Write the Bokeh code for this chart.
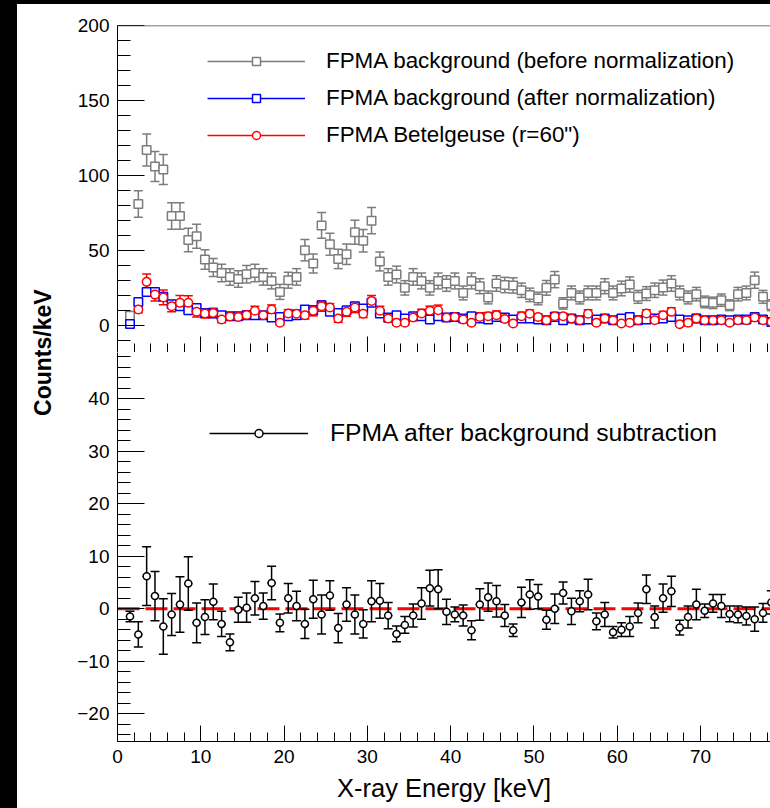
import math
from bokeh.plotting import figure
from bokeh.models import (ColumnDataSource, Range1d, FixedTicker, Whisker, TeeHead, Span,
                          Legend, LegendItem, Label, Div, CustomLabelingPolicy)
from bokeh.layouts import column, row
from bokeh.embed import file_html
from bokeh.resources import INLINE

FONT = "Liberation Sans"
GRAY = "#7c7c7c"
NAN = float("nan")

energy = [1.5, 2.5, 3.5, 4.5, 5.5, 6.5, 7.5, 8.5, 9.5, 10.5, 11.5, 12.5, 13.5, 14.5, 15.5, 16.5,
          17.5, 18.5, 19.5, 20.5, 21.5, 22.5, 23.5, 24.5, 25.5, 26.5, 27.5, 28.5, 29.5, 30.5, 31.5,
          32.5, 33.5, 34.5, 35.5, 36.5, 37.5, 38.5, 39.5, 40.5, 41.5, 42.5, 43.5, 44.5, 45.5, 46.5,
          47.5, 48.5, 49.5, 50.5, 51.5, 52.5, 53.5, 54.5, 55.5, 56.5, 57.5, 58.5, 59.5, 60.5, 61.5,
          62.5, 63.5, 64.5, 65.5, 66.5, 67.5, 68.5, 69.5, 70.5, 71.5, 72.5, 73.5, 74.5, 75.5, 76.5,
          77.5, 78.5]

bg_before = [6.5, 81, 117, 106, 104, 73, 73, 57, 59.5, 44, 38.7, 35, 32.4, 31, 34.2, 35,
             32.4, 29.7, 22.4, 30.2, 32.4, 50.2, 41.3, 66.7, 54.2, 44.4, 47.5, 62.2, 56.5, 69.9, 42.7,
             32.4, 34, 25.1, 32.4, 29.7, 25.1, 29.7, 28, 29.7, 21.7, 29.7, 26.2, 18.7, 28, 27,
             26.7, 23.5, 20.4, 18, 25.1, 30.6, 14.7, 21.7, 18.7, 21.7, 21.7, 26.2, 21.7, 24.7, 27.3,
             19.1, 21.3, 23.5, 25.3, 28, 21.7, 18.7, 20.9, 15.7, 15.1, 16.9, 13.5, 20.9, 21.7, 30.2,
             19.1, 13.5]
bg_before_err = [2.5, 8.9, 10.7, 10, 10, 8.9, 8.9, 7.8, 8, 6.5, 6, 5.8, 5.5, 5.5, 5.8, 5.8,
                 5.5, 5.3, 5, 5.3, 5.5, 7.1, 6.3, 8.6, 7.3, 6.5, 6.8, 8, 7.5, 8.7, 6.3,
                 5.5, 5.6, 4.8, 5.5, 5.3, 4.8, 5.3, 5.2, 5.3, 4.6, 5.3, 5, 4.3, 5.2, 5.1,
                 5.1, 4.8, 4.5, 4.2, 4.9, 5.4, 3.8, 4.6, 4.3, 4.6, 4.6, 5, 4.6, 4.9, 5.1,
                 4.3, 4.6, 4.8, 5, 5.2, 4.6, 4.3, 4.5, 3.9, 3.8, 4.1, 3.6, 4.5, 4.6, 5.4,
                 4.3, 3.6]

bg_after = [1.0, 15.7, 22.4, 22.4, 19.1, 14.2, 12.9, 10.2, 11.7, 8.4, 8, 6.9, 6.2, 6.2, 6.9, 6.9,
            6.9, 5.3, 5.7, 6.2, 6.9, 10.7, 10.2, 13.5, 9.1, 8.4, 10.2, 12.9, 11.3, 15.1, 8,
            5.3, 6.9, 4.7, 6.2, 6.2, 4, 6.2, 5.3, 5.7, 4.7, 6.2, 4.7, 4, 5.7, 5.3,
            4, 4.7, 4.7, 4, 3.5, 5.7, 3.5, 4.7, 3.5, 4, 4, 4.7, 3.5, 4.7, 5.7,
            3.5, 4, 4.7, 4.7, 5.7, 4, 3.5, 4.7, 3.5, 3.5, 4, 3.5, 4, 4, 5.7,
            4, 2.4]
bg_after_err = [0.5, 1.7, 2.0, 1.9, 1.9, 1.7, 1.7, 1.5, 1.5, 1.2, 1.1, 1.1, 1.0, 1.0, 1.1, 1.1,
                1.0, 1.0, 1.0, 1.0, 1.0, 1.3, 1.2, 1.6, 1.4, 1.2, 1.3, 1.5, 1.4, 1.6, 1.2,
                1.0, 1.1, 0.9, 1.0, 1.0, 0.9, 1.0, 1.0, 1.0, 0.9, 1.0, 0.9, 0.8, 1.0, 1.0,
                1.0, 0.9, 0.9, 0.8, 0.9, 1.0, 0.7, 0.9, 0.8, 0.9, 0.9, 0.9, 0.9, 0.9, 1.0,
                0.8, 0.9, 0.9, 0.9, 1.0, 0.9, 0.8, 0.9, 0.7, 0.7, 0.8, 0.7, 0.9, 0.9, 1.0,
                0.8, 0.7]

# first bin of the source spectrum is not shown in the figure
src_counts = [NAN, 10.7, 29.1, 20.6, 18.7, 12.9, 15.1, 15.1, 9.1, 8, 8.4, 4, 6, 5.7, 7, 9.8,
              6.9, 10.7, 1.8, 8, 7.8, 6.9, 9.8, 12.9, 12, 4.7, 9.1, 12, 7.8, 16.4, 9.8,
              4.7, 1.8, 1.8, 5.3, 8, 9.8, 10.2, 5.3, 5.7, 4, 1.8, 5.7, 6.2, 6.9, 4.3,
              1.3, 6.2, 7.8, 5.7, 3.5, 6.2, 6.2, 4.7, 3.5, 7.8, 1.8, 4.7, 3.5, 1.3, 1.8,
              3.5, 8, 3.5, 6.9, 9.1, 0.9, 1.8, 4.7, 3.5, 3.5, 3.5, 1.8, 3.5, 3.5, 5.3,
              3.5, 2.4]
src_err = [0.9, 2.2, 5.2, 4.3, 4.9, 3.7, 4.9, 4.7, 3.5, 3.0, 3.1, 2.2, 1.5, 2.2, 2.6, 3.0,
           2.3, 3.0, 1.5, 2.6, 2.6, 2.6, 3.4, 3.4, 2.6, 2.6, 3.0, 3.4, 2.5, 3.6, 3.0,
           2.3, 1.4, 1.5, 2.0, 2.8, 3.1, 3.4, 2.2, 1.3, 1.8, 1.6, 2.8, 2.5, 2.8, 1.9,
           1.1, 2.7, 2.6, 2.1, 1.6, 2.6, 1.9, 2.3, 1.8, 2.7, 1.5, 2.1, 1.0, 1.2, 1.7,
           1.7, 2.5, 1.9, 2.5, 2.7, 1.3, 1.9, 2.7, 1.2, 1.6, 2.0, 1.4, 1.5, 1.6, 2.1,
           1.7, 2.0]

sub_counts = [-1.5, -4.9, 6.2, 2.4, -3.4, -1.1, 0.8, 4.8, -2.7, -1.6, 1.3, -2.9, -6.4, -0.2, 0.2, 2.0,
              0.5, 4.9, -2.7, 2.0, 0.5, -2.9, 1.8, -1.1, 2.5, -3.7, 0.8, -1.1, -2.9, 1.4, 1.5,
              -1.3, -4.8, -3.1, -1.3, 1.0, 3.9, 3.7, -0.6, -1.1, -1.3, -4.1, 0.8, 2.2, 1.4, -1.3,
              -4.1, 1.2, 2.7, 2.3, -2.1, 0.0, 3.0, -0.5, 1.4, 2.7, -2.4, -1.1, -4.5, -4.0, -3.4,
              -0.8, 3.7, -1.6, 2.0, 3.3, -3.6, -1.6, 0.8, -0.4, 1.0, 0.5, -1.0, -1.1, -1.4, -2.0,
              -0.8, 1.2]
sub_err = [1.0, 2.4, 5.6, 4.7, 5.3, 4.0, 5.3, 5.1, 3.8, 3.3, 3.4, 2.4, 1.6, 2.4, 2.8, 3.2,
           2.5, 3.2, 1.7, 2.8, 2.8, 2.8, 3.6, 3.7, 2.8, 2.8, 3.2, 3.7, 2.7, 3.9, 3.3,
           2.5, 1.5, 1.6, 2.2, 3.0, 3.4, 3.7, 2.4, 1.4, 2.0, 1.8, 3.0, 2.7, 3.0, 2.1,
           1.2, 2.9, 2.8, 2.3, 1.8, 2.8, 2.1, 2.5, 2.0, 2.9, 1.6, 2.3, 1.1, 1.3, 1.9,
           1.9, 2.7, 2.1, 2.7, 2.9, 1.4, 2.1, 2.9, 1.3, 1.7, 2.2, 1.5, 1.6, 1.7, 2.3,
           1.8, 2.2]

x_major = [0, 10, 20, 30, 40, 50, 60, 70]
x_minor = [v for v in range(0, 80, 2) if v % 10 != 0]
top_major = [0, 50, 100, 150, 200]
top_minor = [v for v in range(-10, 200, 10) if v % 50 != 0]
bot_major = [-20, -10, 0, 10, 20, 30, 40]
bot_minor = [v for v in range(-24, 50, 2) if v % 10 != 0]
legend_top = ["FPMA background (before normalization)",
              "FPMA background (after normalization)",
              "FPMA Betelgeuse (r=60\")"]
legend_bot = "FPMA after background subtraction"


def make_source(vals, errs):
    return ColumnDataSource(dict(
        x=energy, y=vals,
        lo=[v - e for v, e in zip(vals, errs)],
        hi=[v + e for v, e in zip(vals, errs)],
        xl=[x - 0.5 for x in energy],
        xr=[x + 0.5 for x in energy]))


def style_fig(p):
    p.xgrid.visible = False
    p.ygrid.visible = False
    p.outline_line_color = None
    p.background_fill_color = "white"
    p.border_fill_color = "white"


def style_axis(ax, major, minor, tin, tmin):
    ax.ticker = FixedTicker(ticks=major, minor_ticks=minor)
    ax.major_tick_in = tin
    ax.major_tick_out = 0
    ax.minor_tick_in = tmin
    ax.minor_tick_out = 0
    ax.axis_line_color = "black"
    ax.axis_line_width = 1
    ax.major_tick_line_color = "black"
    ax.minor_tick_line_color = "black"
    ax.major_label_text_font = FONT
    ax.major_label_text_font_size = "19px"
    ax.major_label_text_color = "black"


def add_series(p, src, color, marker, size, fill="white"):
    seg = p.segment(x0="xl", y0="y", x1="xr", y1="y", source=src, line_color=color, line_width=1.5)
    w = Whisker(base="x", lower="lo", upper="hi", source=src, dimension="height",
                line_color=color, line_width=1.5, level="underlay",
                lower_head=TeeHead(size=9, line_color=color, line_width=1.5),
                upper_head=TeeHead(size=9, line_color=color, line_width=1.5))
    p.add_layout(w)
    sc = p.scatter("x", "y", source=src, marker=marker, size=size, line_color=color,
                   line_width=1.5, fill_color=fill)
    return seg, sc


x_rng = Range1d(0, 78.4)

# ---------------- top panel ----------------
top = figure(width=710, height=348, x_range=x_rng, y_range=Range1d(-18, 200),
             output_backend="svg", toolbar_location=None,
             min_border_left=57, min_border_right=0, min_border_top=21, min_border_bottom=0)
style_fig(top)
style_axis(top.yaxis[0], top_major, top_minor, 27, 13)
top.yaxis[0].major_label_standoff = 8
style_axis(top.xaxis[0], x_major, x_minor, 16, 9)
# shared energy axis: the tick labels are shown only on the lower panel
top.xaxis[0].major_label_policy = CustomLabelingPolicy(
    code="for (const i of indices) indices.unset(i)")
top.xaxis[0].major_label_text_font_size = "0px"
top.xaxis[0].major_label_standoff = 0
top.add_layout(Span(location=200, dimension="width", line_color="#444444", line_width=1.5))

r_g = add_series(top, make_source(bg_before, bg_before_err), GRAY, "square", 8.5)
r_b = add_series(top, make_source(bg_after, bg_after_err), "#0000ff", "square", 8.5)
r_r = add_series(top, make_source(src_counts, src_err), "#ff0000", "circle", 8.5)

leg1 = Legend(items=[LegendItem(label=legend_top[0], renderers=list(r_g)),
                     LegendItem(label=legend_top[1], renderers=list(r_b)),
                     LegendItem(label=legend_top[2], renderers=list(r_r))],
              location=(90, 204), border_line_color=None, background_fill_alpha=0,
              label_text_font=FONT, label_text_font_size="22.4px", label_text_color="black",
              glyph_width=98, glyph_height=20, label_height=20, label_standoff=21,
              spacing=11, padding=0, margin=0)
top.add_layout(leg1)

# ---------------- bottom panel ----------------
bot = figure(width=710, height=456, x_range=x_rng, y_range=Range1d(-25.3, 48.8),
             output_backend="svg", toolbar_location=None,
             min_border_left=57, min_border_right=0, min_border_top=0, min_border_bottom=67)
style_fig(bot)
style_axis(bot.yaxis[0], bot_major, bot_minor, 27, 13)
bot.yaxis[0].major_label_standoff = 8
bot.yaxis[0].major_label_overrides = {-10: "\u221210", -20: "\u221220"}
style_axis(bot.xaxis[0], x_major, x_minor, 16, 9)
bot.xaxis[0].major_label_standoff = 8
bot.xaxis[0].axis_label = "X-ray Energy [keV]"
bot.xaxis[0].axis_label_text_font = FONT
bot.xaxis[0].axis_label_text_font_size = "25.5px"
bot.xaxis[0].axis_label_text_font_style = "normal"
bot.xaxis[0].axis_label_text_color = "black"
bot.xaxis[0].axis_label_standoff = 8

bot.add_layout(Span(location=0, dimension="width", line_color="#ff0000", line_width=3,
                    line_dash="22 6", level="underlay"))
r_k = add_series(bot, make_source(sub_counts, sub_err), "black", "circle", 7)

leg2 = Legend(items=[LegendItem(label=legend_bot, renderers=list(r_k))],
              location=(92, 294), border_line_color=None, background_fill_alpha=0,
              label_text_font=FONT, label_text_font_size="24.7px", label_text_color="black",
              glyph_width=99, glyph_height=20, label_height=20, label_standoff=22,
              padding=0, margin=0)
bot.add_layout(leg2)

# ---------------- y title ----------------
lab = figure(width=43, height=804, x_range=Range1d(0, 1), y_range=Range1d(0, 1),
             output_backend="svg", toolbar_location=None, min_border=0,
             x_axis_location=None, y_axis_location=None)
style_fig(lab)
lab.add_layout(Label(x=0.6, y=0.567, text="Counts/keV", angle=math.pi / 2,
                     text_align="center", text_baseline="middle", text_font=FONT,
                     text_font_size="23px", text_font_style="bold", text_color="black"))

left_strip = Div(text="", width=17, height=804, margin=0,
                 styles={"background-color": "black"})
top_strip = Div(text="", width=770, height=4, margin=0,
                styles={"background-color": "black"})

layout = column(top_strip, row(left_strip, lab, column(top, bot)))

open("out.html", "w").write(file_html(layout, INLINE))
